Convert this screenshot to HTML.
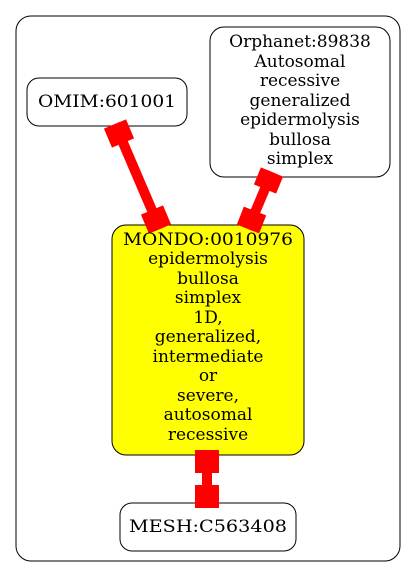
<!DOCTYPE html>
<html><head><style>html,body{margin:0;padding:0;background:#fff}svg{display:block}</style></head>
<body>
<svg width="416" height="579" viewBox="0 0 416 579" xmlns="http://www.w3.org/2000/svg" font-family="'DejaVu Serif',serif" font-size="17" text-anchor="middle">
<rect x="16" y="16" width="384" height="545" rx="15" fill="#fff" stroke="#000" stroke-width="1"/>
<rect x="27" y="78" width="160" height="48" rx="12" fill="#fff" stroke="#000"/>
<rect x="210" y="27" width="180" height="150" rx="14" fill="#fff" stroke="#000"/>
<rect x="112" y="225" width="192" height="230" rx="14" fill="#ff0" stroke="#000"/>
<rect x="120" y="503" width="176" height="48" rx="12" fill="#fff" stroke="#000"/>
<g stroke="#f00" fill="none" stroke-linecap="butt">
<line x1="115" y1="124" x2="160" y2="229" stroke-width="10"/>
<line x1="115" y1="124" x2="123" y2="143" stroke-width="24"/>
<line x1="160" y1="229" x2="152" y2="210" stroke-width="24"/>
<line x1="272" y1="172" x2="248" y2="229" stroke-width="10"/>
<line x1="272" y1="172" x2="265" y2="189" stroke-width="24"/>
<line x1="248" y1="229" x2="255" y2="211" stroke-width="24"/>
<line x1="207" y1="450" x2="207" y2="508" stroke-width="10"/>
<line x1="207" y1="450" x2="207" y2="473" stroke-width="24"/>
<line x1="207" y1="485" x2="207" y2="508" stroke-width="24"/>
</g>
<text x="107" y="107" textLength="138" lengthAdjust="spacingAndGlyphs">OMIM:601001</text>
<text x="300" y="47">Orphanet:89838</text>
<text x="300" y="67">Autosomal</text>
<text x="300" y="86">recessive</text>
<text x="300" y="106">generalized</text>
<text x="300" y="125">epidermolysis</text>
<text x="300" y="145">bullosa</text>
<text x="300" y="164">simplex</text>
<text x="208" y="245" textLength="170" lengthAdjust="spacingAndGlyphs">MONDO:0010976</text>
<text x="208" y="264">epidermolysis</text>
<text x="208" y="284">bullosa</text>
<text x="208" y="303">simplex</text>
<text x="208" y="323">1D,</text>
<text x="208" y="342">generalized,</text>
<text x="208" y="362">intermediate</text>
<text x="208" y="381">or</text>
<text x="208" y="401">severe,</text>
<text x="208" y="420">autosomal</text>
<text x="208" y="440">recessive</text>
<text x="208" y="532" textLength="158" lengthAdjust="spacingAndGlyphs">MESH:C563408</text>
</svg>
</body></html>
